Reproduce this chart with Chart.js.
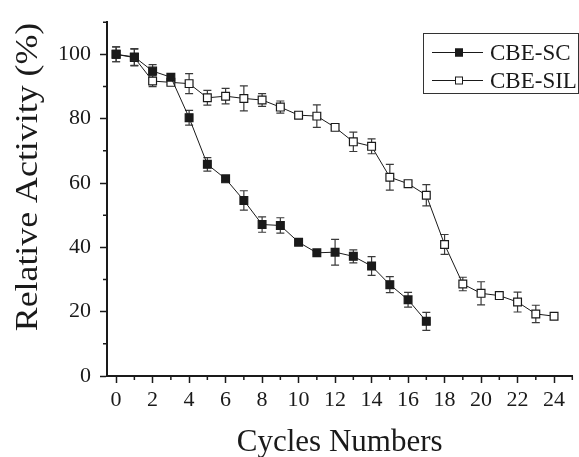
<!DOCTYPE html>
<html>
<head>
<meta charset="utf-8">
<script src="https://cdn.jsdelivr.net/npm/chart.js@4/dist/chart.umd.min.js"></script>
<style>
	html, body { margin: 0; padding: 0; background: #fff; }
	#wrap { width: 579px; height: 457px; }
</style>
</head>
<body>
<div id="wrap"><canvas id="chart" width="579" height="457"></canvas></div>
<script>
// values
const scCycles = [0, 1, 2, 3, 4, 5, 6, 7, 8, 9, 10, 11, 12, 13, 14, 15, 16, 17];
const scActivity = [100, 99.2, 94.8, 92.9, 80.3, 65.8, 61.3, 54.6, 47.1, 46.8, 41.6, 38.3, 38.5, 37.2, 34.2, 28.4, 23.7, 17.0];
const scError = [2.3, 2.6, 2.0, 1.0, 2.3, 2.1, 0.5, 3.0, 2.4, 2.4, 0.8, 0.5, 4.0, 2.0, 2.9, 2.5, 2.3, 2.8];

const silCycles = [0, 1, 2, 3, 4, 5, 6, 7, 8, 9, 10, 11, 12, 13, 14, 15, 16, 17, 18, 19, 20, 21, 22, 23, 24];
const silActivity = [100, 99.0, 91.7, 91.3, 90.9, 86.5, 87.0, 86.3, 85.8, 83.6, 81.1, 80.8, 77.3, 72.8, 71.4, 61.8, 59.8, 56.2, 40.9, 28.6, 25.7, 25.0, 23.0, 19.3, 18.6];
const silError = [2.3, 2.6, 1.7, 0.7, 3.1, 2.3, 2.4, 3.9, 2.0, 1.9, 1.0, 3.5, 0.8, 3.0, 2.3, 4.0, 0.5, 3.3, 3.1, 2.1, 3.6, 0.8, 3.1, 2.7, 0.5];

const seriesNames = ['CBE-SC', 'CBE-SIL'];
const xTicks = [0, 2, 4, 6, 8, 10, 12, 14, 16, 18, 20, 22, 24];
const yTicks = [0, 20, 40, 60, 80, 100];
const xTitle = 'Cycles Numbers';
const yTitle = 'Relative Activity (%)';

const FONT = '"Liberation Serif", "Times New Roman", serif';
const INK = '#1a1a1a';

function toPoints(xs, ys) {
	return xs.map((x, i) => ({ x, y: ys[i] }));
}

// error bars drawn under the markers
const errorBars = {
	id: 'errorBars',
	beforeDatasetsDraw(chart) {
		const { ctx, scales: { x, y } } = chart;
		ctx.save();
		ctx.strokeStyle = '#3a3a3a';
		ctx.lineWidth = 1.2;
		chart.data.datasets.forEach((ds) => {
			ds.data.forEach((p, i) => {
				const err = ds.errors[i];
				const px = x.getPixelForValue(p.x);
				const top = y.getPixelForValue(p.y + err);
				const bottom = y.getPixelForValue(p.y - err);
				ctx.beginPath();
				ctx.moveTo(px, top);
				ctx.lineTo(px, bottom);
				ctx.moveTo(px - 4, top);
				ctx.lineTo(px + 4, top);
				ctx.moveTo(px - 4, bottom);
				ctx.lineTo(px + 4, bottom);
				ctx.stroke();
			});
		});
		ctx.restore();
	},
};

// minor ticks, y title and the boxed legend
const decorations = {
	id: 'decorations',
	afterDraw(chart) {
		const { ctx, scales: { x, y }, chartArea } = chart;
		ctx.save();
		ctx.strokeStyle = INK;
		ctx.lineWidth = 1.5;
		ctx.beginPath();
		xTicks.forEach((v) => {
			if (v + 1 <= x.max) {
				const px = x.getPixelForValue(v + 1);
				ctx.moveTo(px, chartArea.bottom);
				ctx.lineTo(px, chartArea.bottom + 4);
			}
		});
		yTicks.forEach((v) => {
			if (v + 10 <= y.max) {
				const py = y.getPixelForValue(v + 10);
				ctx.moveTo(chartArea.left, py);
				ctx.lineTo(chartArea.left - 4, py);
			}
		});
		ctx.stroke();

		// the title in the reference is drawn a little stretched along its length
		ctx.fillStyle = INK;
		ctx.font = `32px ${FONT}`;
		ctx.textAlign = 'center';
		ctx.textBaseline = 'middle';
		ctx.translate(29, 177);
		ctx.rotate(-Math.PI / 2);
		ctx.scale(1.12, 1);
		ctx.fillText(yTitle, 0, 0);
		ctx.restore();

		ctx.save();
		ctx.strokeStyle = '#333';
		ctx.lineWidth = 1;
		ctx.strokeRect(423.5, 33.5, 155, 60);
		ctx.font = `23px ${FONT}`;
		ctx.textBaseline = 'middle';
		ctx.textAlign = 'left';
		chart.data.datasets.forEach((ds, i) => {
			const rowY = 52.5 + i * 28;
			ctx.beginPath();
			ctx.strokeStyle = INK;
			ctx.lineWidth = 1;
			ctx.moveTo(432, rowY);
			ctx.lineTo(483, rowY);
			ctx.stroke();
			ctx.fillStyle = ds.pointBackgroundColor;
			ctx.fillRect(455, rowY - 4, 8, 8);
			ctx.strokeRect(455.5, rowY - 3.5, 7, 7);
			ctx.fillStyle = INK;
			ctx.fillText(ds.label, 490, rowY + 1);
		});
		ctx.restore();
	},
};

function datasetStyle(fill) {
	return {
		borderColor: INK,
		borderWidth: 1,
		pointStyle: 'rect',
		pointRadius: 5.5,
		pointBorderWidth: 1.2,
		pointBorderColor: INK,
		pointBackgroundColor: fill,
		tension: 0,
	};
}

function axisStyle() {
	return {
		grid: {
			drawOnChartArea: false,
			tickLength: 7,
			tickColor: INK,
			tickWidth: 1.5,
		},
		border: { color: INK, width: 2 },
	};
}

new Chart(document.getElementById('chart'), {
	type: 'line',
	data: {
		datasets: [
			{
				label: seriesNames[0],
				data: toPoints(scCycles, scActivity),
				errors: scError,
				...datasetStyle(INK),
			},
			{
				label: seriesNames[1],
				data: toPoints(silCycles, silActivity),
				errors: silError,
				...datasetStyle('#ffffff'),
			},
		],
	},
	options: {
		responsive: false,
		animation: false,
		layout: { padding: { top: 16, right: 4, left: 0, bottom: 0 } },
		plugins: {
			legend: { display: false },
			tooltip: { enabled: false },
		},
		scales: {
			x: {
				type: 'linear',
				min: -0.5,
				max: 25,
				...axisStyle(),
				afterBuildTicks: (axis) => { axis.ticks = xTicks.map((v) => ({ value: v })); },
				afterFit: (axis) => { axis.height = 81; },
				ticks: {
					color: INK,
					font: { family: FONT, size: 22 },
					padding: 4,
					maxRotation: 0,
					autoSkip: false,
				},
				title: {
					display: true,
					text: xTitle,
					color: INK,
					font: { family: FONT, size: 31, lineHeight: 0.9 },
					padding: { top: 0, bottom: 0 },
				},
			},
			y: {
				min: 0,
				max: 110,
				...axisStyle(),
				afterBuildTicks: (axis) => { axis.ticks = yTicks.map((v) => ({ value: v })); },
				afterFit: (axis) => { axis.width = 107; },
				ticks: {
					color: INK,
					font: { family: FONT, size: 22 },
					padding: 9,
				},
			},
		},
	},
	plugins: [errorBars, decorations],
});
</script>
</body>
</html>
